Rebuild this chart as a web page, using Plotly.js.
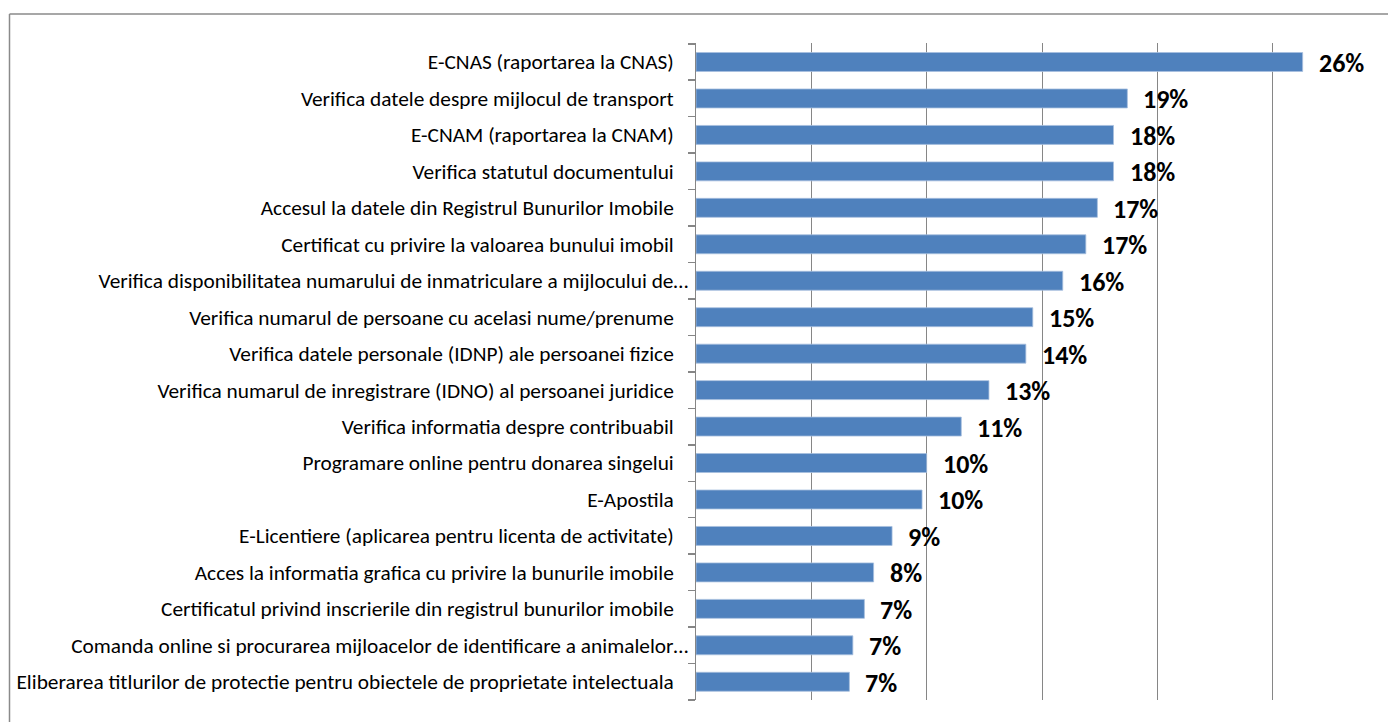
<!DOCTYPE html>
<html>
<head>
<meta charset="utf-8">
<script src="https://cdn.plot.ly/plotly-3.0.1.min.js"></script>
<style>
  html, body { margin: 0; padding: 0; background: #ffffff; }
  #chart { width: 1388px; height: 722px; }
</style>
</head>
<body>
<div id="chart"></div>
<script>
const categories = [
  "E-CNAS (raportarea la CNAS)",
  "Verifica datele despre mijlocul de transport",
  "E-CNAM (raportarea la CNAM)",
  "Verifica statutul documentului",
  "Accesul la datele din Registrul Bunurilor Imobile",
  "Certificat cu privire la valoarea bunului imobil",
  "Verifica disponibilitatea numarului de inmatriculare a mijlocului de…",
  "Verifica numarul de persoane cu acelasi nume/prenume",
  "Verifica datele personale (IDNP) ale persoanei fizice",
  "Verifica numarul de inregistrare (IDNO) al persoanei juridice",
  "Verifica informatia despre contribuabil",
  "Programare online pentru donarea singelui",
  "E-Apostila",
  "E-Licentiere (aplicarea pentru licenta de activitate)",
  "Acces la informatia grafica cu privire la bunurile imobile",
  "Certificatul privind inscrierile din registrul bunurilor imobile",
  "Comanda online si procurarea mijloacelor de identificare a animalelor…",
  "Eliberarea titlurilor de protectie pentru obiectele de proprietate intelectuala"
];
const values = [26.3, 18.7, 18.1, 18.1, 17.4, 16.9, 15.9, 14.6, 14.3, 12.7, 11.5, 10.0, 9.8, 8.5, 7.7, 7.3, 6.8, 6.65];
const valueLabels = ["26%", "19%", "18%", "18%", "17%", "17%", "16%", "15%", "14%", "13%", "11%", "10%", "10%", "9%", "8%", "7%", "7%", "7%"];

const AXIS_GRAY = "#868686";
const FONT = "Carlito, Calibri, 'Liberation Sans', Arial, sans-serif";

// Excel draws its truncated (…) labels closer to the axis than the full ones
const tickText = categories.map(c => c.endsWith("…") ? c : c + "\u00A0\u00A0\u00A0");

const trace = {
  type: "bar",
  orientation: "h",
  x: values,
  y: categories,
  marker: { color: "#4F81BD", line: { color: "#A7BFDE", width: 0.8 } },
  hoverinfo: "x+y"
};

const annotations = categories.map((c, i) => ({
  x: values[i],
  y: c,
  xref: "x",
  yref: "y",
  text: valueLabels[i],
  showarrow: false,
  xanchor: "left",
  yanchor: "middle",
  xshift: 14,
  yshift: -1,
  font: { family: FONT, size: 26, color: "#000000", weight: "bold" }
}));

const frameX = (9.5 - 696) / 692;
const frameY = 1 + (43 - 14) / 657;

const layout = {
  width: 1388,
  height: 722,
  margin: { l: 696, r: 0, t: 43, b: 22, pad: 0 },
  paper_bgcolor: "#ffffff",
  plot_bgcolor: "#ffffff",
  showlegend: false,
  bargap: 0.48,
  font: { family: FONT, size: 21.33, color: "#000000" },
  xaxis: {
    range: [0, 30],
    dtick: 5,
    showgrid: true,
    gridcolor: AXIS_GRAY,
    gridwidth: 1,
    zeroline: false,
    showline: false,
    showticklabels: false,
    ticks: "",
    fixedrange: true
  },
  yaxis: {
    type: "category",
    autorange: "reversed",
    tickmode: "array",
    tickvals: categories,
    ticktext: tickText,
    showline: true,
    linecolor: AXIS_GRAY,
    linewidth: 1.5,
    ticks: "outside",
    ticklen: 7,
    tickwidth: 1.5,
    tickcolor: AXIS_GRAY,
    tickson: "boundaries",
    ticklabelstandoff: 2,
    showgrid: false,
    zeroline: false,
    tickfont: { family: FONT, size: 21.33, color: "#000000" },
    fixedrange: true
  },
  annotations: annotations,
  shapes: [
    { type: "line", xref: "paper", yref: "paper", x0: frameX, x1: 1.02, y0: frameY, y1: frameY,
      line: { color: "#8a8a8a", width: 1.5 } },
    { type: "line", xref: "paper", yref: "paper", x0: frameX, x1: frameX, y0: frameY, y1: -0.05,
      line: { color: "#8a8a8a", width: 1.5 } }
  ]
};

Plotly.newPlot("chart", [trace], layout, { displayModeBar: false, staticPlot: true });
</script>
</body>
</html>
